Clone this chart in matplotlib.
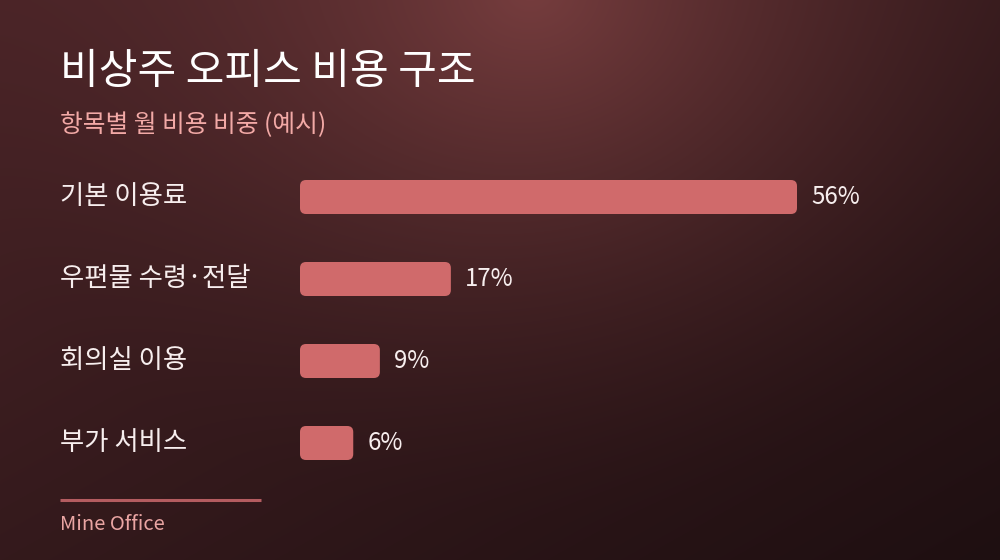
import numpy as np
import matplotlib
matplotlib.use("Agg")
import matplotlib.pyplot as plt
from matplotlib.patches import FancyBboxPatch
from matplotlib.colors import to_rgb

plt.rcParams['font.family'] = ['Noto Sans CJK KR', 'DejaVu Sans']

title = "비상주 오피스 비용 구조"
subtitle = "항목별 월 비용 비중 (예시)"
categories = ["기본 이용료", "우편물 수령·전달", "회의실 이용", "부가 서비스"]
shares = [56, 17, 9, 6]
value_labels = ["56%", "17%", "9%", "6%"]
source = "Mine Office"

W, H = 1000, 560
fig = plt.figure(figsize=(W / 100, H / 100), dpi=100)

# background: diagonal base + radial glow near top centre
bg = fig.add_axes([0, 0, 1, 1])
bg.set_axis_off()
yy, xx = np.mgrid[0:H, 0:W]
t = np.clip((xx / W + yy / H) / 2, 0, 1)[..., None]
c0 = np.array(to_rgb("#4a2427"))
c1 = np.array(to_rgb("#1e0f11"))
base = c0 + (c1 - c0) * t
d = np.hypot(xx - 530, (yy + 10) * 1.15)
a = np.clip(1 - d / 620, 0, 1)[..., None] ** 1.8
glow = np.array(to_rgb("#763d3e"))
img = base * (1 - a) + glow * a
bg.imshow(img, extent=[0, W, H, 0], aspect="auto")
bg.set_xlim(0, W)
bg.set_ylim(H, 0)

fig.text(60 / W, 1 - 72 / H, title, color="white", fontsize=30.3,
         va="center", ha="left", fontweight="medium")
fig.text(60 / W, 1 - 125 / H, subtitle, color="#f2a9a6", fontsize=17.8,
         va="center", ha="left")

# bars
x0, px_max = 300, 497
ax = fig.add_axes([x0 / W, 1 - 484 / H, 500 / W, 328 / H])
ax.set_axis_off()
xmax = shares[0] * 500 / px_max
ax.set_xlim(0, xmax)
ax.set_ylim(len(shares) - 0.5, -0.5)
bar_h = 34 / 82
ux = xmax / 500          # data units per pixel (x)
uy = 1 / 82              # data units per pixel (y)
for i, (v, lab, cat) in enumerate(zip(shares, value_labels, categories)):
    p = FancyBboxPatch((0, i - bar_h / 2), v, bar_h,
                       boxstyle="round,pad=0,rounding_size=%f" % (6 * ux),
                       mutation_aspect=uy / ux,
                       fc="#d06a6b", ec="none")
    ax.add_patch(p)
    ax.annotate(lab, (v, i), xytext=(10.3, 0), textcoords="offset points",
                va="center", ha="left", color="#f7eeee", fontsize=17.3)
    fig.text(60 / W, 1 - (196 + 82 * i) / H, cat, color="#f7eeee",
             fontsize=19, va="center", ha="left")

# footer
bg.plot([60, 261], [500, 500], color="#b45c60", lw=2.2, solid_capstyle="butt")
fig.text(60 / W, 1 - 524 / H, source, color="#eaa5a3", fontsize=14.5,
         va="center", ha="left")

fig.savefig("out.png", dpi=100)
